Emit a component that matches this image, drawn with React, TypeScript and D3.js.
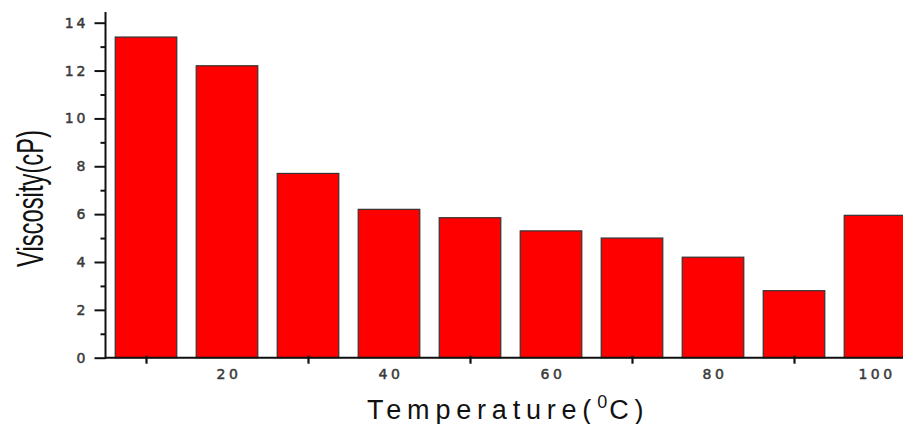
import React, { useEffect, useRef } from "react";
import * as d3 from "d3";

// temperatures (deg C) and measured viscosity (cP)
const temps = [10, 20, 30, 40, 50, 60, 70, 80, 90, 100];
const viscosity = [13.4, 12.2, 7.7, 6.2, 5.85, 5.3, 5.0, 4.2, 2.8, 5.95];
const yMajorTicks = [0, 2, 4, 6, 8, 10, 12, 14];
const yMinorTicks = [1, 3, 5, 7, 9, 11, 13];
const xMarkTicks = [10, 30, 50, 70, 90];
const xLabelTicks = [20, 40, 60, 80, 100];

function BarChart() {
    const ref = useRef<SVGSVGElement | null>(null);

    useEffect(() => {
        const width = 903;
        const height = 424;
        const font = "Arial, 'Liberation Sans', sans-serif";
        const tickFont = "'DejaVu Sans', Verdana, sans-serif";

        const svg = d3.select(ref.current);
        svg.selectAll("*").remove();
        svg.attr("width", width).attr("height", height);

        const x = d3.scaleLinear([5, 105], [105.5, 915.5]);
        const y = d3.scaleLinear([0, 14], [357.7, 22.7]);
        const barW = x(7.6) - x(0);

        const data = temps.map((t, i) => ({ t, v: viscosity[i] }));

        // bars
        svg.append("g")
            .selectAll("rect")
            .data(data)
            .join("rect")
            .attr("x", d => x(d.t) - barW / 2)
            .attr("y", d => y(d.v))
            .attr("width", barW)
            .attr("height", d => y(0) - y(d.v))
            .attr("fill", "#ff0000")
            .attr("stroke", "#333")
            .attr("stroke-width", 1.2);

        // y axis, major + minor ticks
        const yAxis = svg.append("g")
            .attr("transform", `translate(${x(5)},0)`)
            .call(d3.axisLeft(y).tickValues(yMajorTicks).tickSize(11).tickPadding(6).tickSizeOuter(0));
        yAxis.select(".domain").remove();
        yAxis.selectAll(".tick line").attr("stroke", "#111").attr("stroke-width", 2);
        yAxis.selectAll(".tick text")
            .attr("font-family", tickFont)
            .attr("font-size", 14)
            .attr("letter-spacing", 3)
            .attr("stroke", "#3a3a3a")
            .attr("stroke-width", 0.5)
            .attr("fill", "#3a3a3a");

        const yMinor = svg.append("g")
            .attr("transform", `translate(${x(5)},0)`)
            .call(d3.axisLeft(y).tickValues(yMinorTicks).tickSize(5).tickFormat(() => "").tickSizeOuter(0));
        yMinor.select(".domain").remove();
        yMinor.selectAll(".tick line").attr("stroke", "#111").attr("stroke-width", 2);

        svg.append("line")
            .attr("x1", x(5)).attr("x2", x(5))
            .attr("y1", y(0) + 1).attr("y2", y(14.45))
            .attr("stroke", "#111").attr("stroke-width", 2);

        // x axis
        svg.append("line")
            .attr("x1", x(5)).attr("x2", width)
            .attr("y1", y(0)).attr("y2", y(0))
            .attr("stroke", "#111").attr("stroke-width", 2);

        const xMarks = svg.append("g")
            .attr("transform", `translate(0,${y(0) - 2})`)
            .call(d3.axisBottom(x).tickValues(xMarkTicks).tickSize(8).tickFormat(() => "").tickSizeOuter(0));
        xMarks.select(".domain").remove();
        xMarks.selectAll(".tick line").attr("stroke", "#111").attr("stroke-width", 2.2);

        const xLabels = svg.append("g")
            .attr("transform", `translate(0,${y(0)})`)
            .call(d3.axisBottom(x).tickValues(xLabelTicks).tickSize(0).tickSizeOuter(0));
        xLabels.select(".domain").remove();
        xLabels.selectAll(".tick text")
            .attr("y", 21)
            .attr("dy", 0)
            .attr("dx", 1.5)
            .attr("font-family", tickFont)
            .attr("font-size", 14)
            .attr("letter-spacing", 3.5)
            .attr("stroke", "#3a3a3a")
            .attr("stroke-width", 0.5)
            .attr("fill", "#3a3a3a");

        // axis titles
        svg.append("text")
            .attr("transform", "translate(43,198.5) rotate(-90)")
            .attr("text-anchor", "middle")
            .attr("font-family", font)
            .attr("font-size", 36)
            .attr("textLength", 137)
            .attr("lengthAdjust", "spacingAndGlyphs")
            .attr("fill", "#111")
            .text("Viscosity(cP)");

        const xt = svg.append("text")
            .attr("x", 367)
            .attr("y", 419)
            .attr("font-family", font)
            .attr("font-size", 27)
            .attr("letter-spacing", 5.8)
            .attr("fill", "#111");
        xt.append("tspan").text("Temperature(");
        xt.append("tspan").attr("font-size", 18).attr("dy", -11).attr("letter-spacing", 2).text("0");
        xt.append("tspan").attr("dy", 11).text("C)");
    }, []);

    return <svg ref={ref} style={{ position: "absolute", left: 0, top: 0, background: "#fff" }} />;
}

export default function App() {
    return <BarChart />;
}
